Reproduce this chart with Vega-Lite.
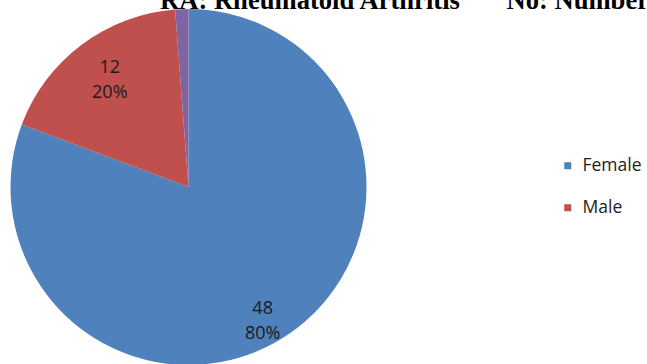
{
  "$schema": "https://vega.github.io/schema/vega-lite/v6.json",
  "width": 377,
  "height": 374,
  "autosize": {"type": "none"},
  "padding": {"left": 0, "top": 0, "right": 270, "bottom": 0},
  "background": "white",
  "config": {"view": {"stroke": null}},
  "title": {
    "text": "RA: Rheumatoid Arthritis\u00a0\u00a0\u00a0\u00a0\u00a0\u00a0\u00a0No: Number",
    "anchor": "start",
    "frame": "group",
    "orient": "top",
    "offset": 0,
    "dx": 160,
    "dy": 36,
    "baseline": "alphabetic",
    "font": "Liberation Serif",
    "fontSize": 26.6,
    "fontWeight": "bold",
    "color": "black"
  },
  "data": {
    "values": [
      {"sex": "Female", "n": 48, "label": "48\n80%", "share": 80.7, "ord": 1},
      {"sex": "Male", "n": 12, "label": "12\n20%", "share": 18.1, "ord": 2},
      {"sex": "Other", "n": null, "label": "", "share": 1.2, "ord": 3}
    ]
  },
  "layer": [
    {
      "mark": {"type": "arc", "outerRadius": 178},
      "encoding": {
        "theta": {"field": "share", "type": "quantitative", "stack": true},
        "order": {"field": "ord", "type": "quantitative"},
        "color": {
          "field": "sex",
          "type": "nominal",
          "scale": {"domain": ["Female", "Male", "Other"], "range": ["#4F81BD", "#C0504D", "#8064A2"]},
          "legend": {
            "orient": "none",
            "legendX": 559,
            "legendY": 157,
            "values": ["Female", "Male"],
            "title": null,
            "symbolType": "square",
            "symbolSize": 49,
            "symbolStrokeWidth": 0,
            "labelFont": "Open Sans",
            "labelFontSize": 17.5,
            "labelColor": "#222222",
            "labelOffset": 6,
            "rowPadding": 23,
            "padding": 0
          }
        }
      }
    },
    {
      "mark": {"type": "text", "radius": 143, "font": "Open Sans", "fontSize": 18, "lineHeight": 25, "lineBreak": "\n", "color": "#1a1a1a", "align": "center", "baseline": "middle"},
      "encoding": {
        "theta": {"field": "share", "type": "quantitative", "stack": true, "scale": {"range": [0.0611, 6.3443]}},
        "order": {"field": "ord", "type": "quantitative"},
        "text": {"field": "label", "type": "nominal"}
      }
    }
  ],
  "resolve": {"scale": {"theta": "independent"}}
}
